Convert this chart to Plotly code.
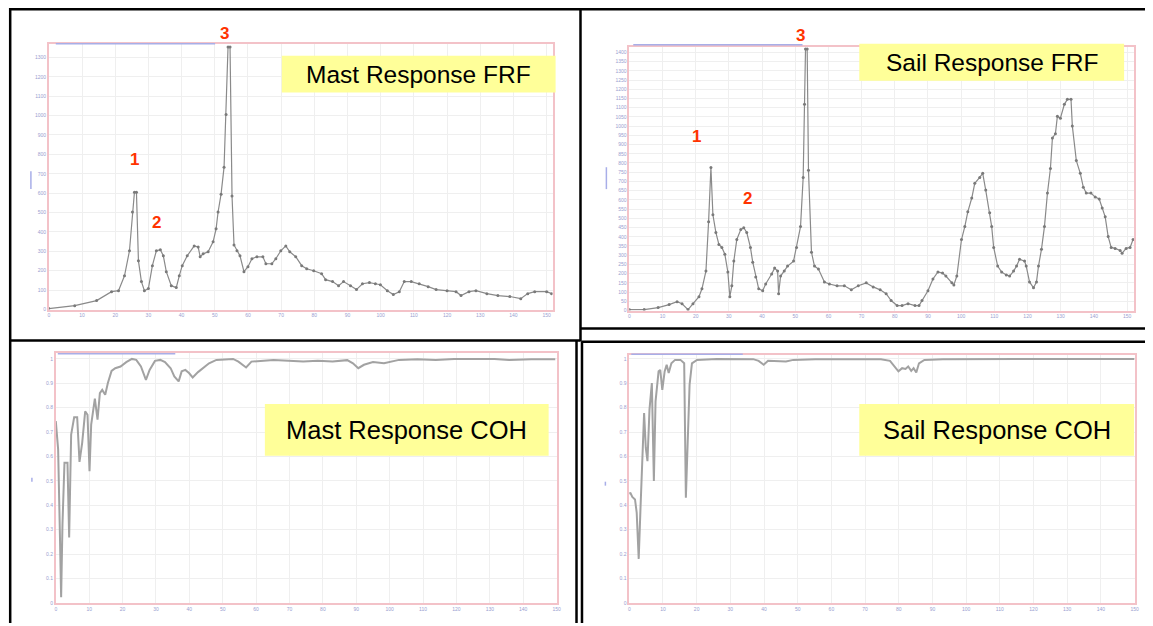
import plotly.graph_objects as go

# the page body adds an 8px margin, so the figure is drawn 8px in from the window edge
OFF = 8
W, H = 1153 - OFF, 626 - OFF

# ---------------- data (frequency in Hz, amplitude / coherence) ----------------
mast_frf_f = [0, 7.8, 14.4, 18.9, 21.0, 22.8, 24.3, 25.2, 25.8, 26.4, 27.0, 27.9, 28.8, 30.0,
              31.2, 32.4, 33.6, 34.5, 35.4, 36.9, 38.4, 39.3, 40.2, 41.7, 43.8, 45.0, 45.6,
              46.5, 48.0, 49.5, 50.4, 51.0, 51.9, 52.8, 53.4, 54.0, 54.6, 55.2, 55.8, 56.7,
              57.6, 58.8, 60.0, 61.2, 62.7, 64.5, 65.4, 67.2, 68.4, 69.9, 71.4, 72.6, 74.4,
              76.2, 77.7, 79.8, 82.2, 83.4, 85.5, 87.3, 88.8, 90.9, 92.7, 94.5, 96.6, 98.4,
              99.9, 102.0, 103.8, 105.6, 107.1, 109.2, 111.6, 114.3, 116.7, 120.0, 122.7,
              124.2, 126.6, 128.7, 132.0, 135.3, 138.9, 142.2, 144.3, 146.4, 150.0, 151.5]
mast_frf_a = [5, 20, 46, 92, 97, 174, 303, 503, 605, 605, 251, 144, 97, 108,
              226, 303, 308, 277, 195, 123, 113, 174, 226, 277, 328, 323, 272,
              287, 298, 349, 416, 503, 595, 734, 1005, 1354, 1354, 585, 333, 303,
              277, 195, 221, 262, 272, 272, 236, 236, 262, 303, 328, 298, 272,
              226, 210, 200, 185, 154, 144, 123, 144, 123, 103, 133, 139, 133,
              128, 97, 77, 92, 144, 144, 133, 118, 103, 97, 92,
              72, 92, 97, 82, 72, 67, 56, 82, 92, 92, 82]

sail_frf_f = [0, 4.5, 8.7, 12.0, 14.4, 15.9, 17.7, 19.2, 21.0, 21.9, 23.1, 23.9, 24.6, 25.2,
              26.1, 27.0, 27.9, 28.8, 29.7, 30.3, 30.9, 31.5, 32.4, 33.6, 34.5, 35.4, 36.5,
              37.2, 38.1, 39.0, 40.2, 41.1, 42.9, 43.8, 44.7, 45.0, 45.6, 46.7, 47.7, 49.5,
              50.4, 51.6, 52.4, 52.8, 53.1, 53.6, 54.0, 54.9, 55.8, 57.0, 58.8, 60.3, 62.6,
              64.8, 66.9, 69.0, 71.4, 73.5, 75.6, 77.4, 78.9, 80.7, 82.2, 84.0, 86.1, 87.3,
              88.2, 90.0, 91.5, 93.0, 94.4, 95.4, 97.2, 97.8, 98.7, 100.1, 101.1, 102.0,
              103.2, 104.1, 105.6, 106.5, 107.4, 108.6, 109.2, 109.8, 111.0, 112.2, 113.6,
              114.6, 115.8, 116.7, 117.6, 119.1, 119.6, 120.6, 121.8, 122.7, 123.3, 124.2,
              125.1, 126.0, 126.9, 127.5, 128.4, 129.0, 129.9, 131.1, 132.0, 133.1, 133.5,
              134.7, 135.9, 136.8, 137.7, 139.1, 140.4, 141.6, 142.5, 143.4, 144.3, 145.2,
              146.4, 147.9, 148.5, 149.7, 150.9, 151.8]
sail_frf_a = [5, 5, 16, 32, 48, 37, 5, 37, 75, 118, 214, 482, 776, 519,
              423, 358, 342, 305, 209, 75, 134, 268, 385, 439, 449, 423, 342,
              262, 182, 118, 107, 144, 198, 230, 214, 91, 187, 214, 241, 268,
              342, 455, 722, 1118, 1418, 1418, 760, 316, 241, 225, 155, 144, 134,
              134, 112, 134, 150, 128, 112, 91, 54, 27, 27, 37, 27, 27,
              54, 107, 171, 209, 203, 187, 150, 139, 187, 385, 455, 535,
              610, 690, 722, 744, 653, 530, 455, 342, 241, 209, 193,
              187, 214, 241, 278, 268, 241, 155, 123, 155, 241, 332,
              455, 637, 770, 936, 958, 1054, 1043, 1118, 1145, 1145, 1000,
              813, 744, 669, 637, 637, 615, 605, 556, 508, 401, 342,
              337, 326, 310, 337, 342, 385]

mast_coh_f = [0, 0.7, 1.25, 1.6, 2.0, 2.6, 3.5, 4.0, 4.6, 5.5, 6.4, 7.1, 7.9, 8.8, 9.5,
              10.1, 10.6, 11.7, 12.5, 13.2, 13.9, 14.8, 15.6, 16.7, 17.8, 19.4, 21.1, 22.8,
              24.1, 25.5, 27.0, 28.1, 29.7, 31.3, 32.7, 34.4, 35.5, 36.8, 37.7, 38.8, 39.9,
              41.0, 42.6, 44.3, 45.9, 48.1, 50.9, 53.1, 54.7, 57.0, 58.6, 60.8, 65.2, 69.7,
              74.1, 78.5, 82.9, 87.3, 89.0, 90.6, 92.3, 95.0, 98.3, 102.8, 108.3, 113.8,
              119.3, 124.8, 131.4, 135.8, 142.4, 149.6]
mast_coh_c = [0.745, 0.629, 0.268, 0.023, 0.322, 0.574, 0.574, 0.268, 0.690, 0.761, 0.761,
              0.578, 0.656, 0.785, 0.771, 0.540, 0.731, 0.837, 0.751, 0.860, 0.873, 0.853,
              0.901, 0.951, 0.962, 0.969, 0.987, 1.0, 0.996, 0.969, 0.914, 0.955, 0.992,
              0.996, 0.987, 0.962, 0.928, 0.908, 0.949, 0.955, 0.942, 0.924, 0.946, 0.965,
              0.982, 0.996, 0.999, 1.0, 0.989, 0.965, 0.989, 0.992, 0.996, 0.993, 0.989,
              0.993, 0.989, 0.995, 0.982, 0.962, 0.976, 0.987, 0.982, 0.996, 0.999, 0.996,
              1.0, 1.0, 1.0, 0.996, 0.999, 0.999]

sail_coh_f = [0, 0.3, 0.9, 1.7, 2.2, 2.8, 3.3, 3.8, 4.4, 4.9, 5.4, 6.0, 6.7, 7.3, 7.8, 8.7,
              9.2, 9.8, 10.5, 11.1, 11.7, 12.5, 13.6, 15.2, 16.3, 16.8, 17.3, 17.9, 18.6,
              20.1, 26.0, 32.5, 36.8, 38.4, 39.9, 41.2, 43.9, 46.5, 48.7, 55.2, 66.0, 74.7,
              77.4, 78.8, 79.9, 81.0, 82.0, 82.8, 83.7, 84.4, 85.2, 86.0, 87.6, 93.1, 103.9,
              114.7, 125.5, 136.3, 150.0]
sail_coh_c = [0.445, 0.452, 0.434, 0.424, 0.370, 0.180, 0.377, 0.567, 0.778, 0.636, 0.581,
              0.792, 0.901, 0.500, 0.826, 0.949, 0.955, 0.873, 0.949, 0.976, 0.942, 0.982,
              0.996, 0.996, 0.982, 0.431, 0.690, 0.894, 0.982, 0.996, 1.0, 1.0, 0.999,
              0.992, 0.976, 0.992, 0.989, 0.989, 0.996, 0.999, 0.999, 0.999, 0.992, 0.969,
              0.949, 0.962, 0.959, 0.969, 0.951, 0.962, 0.944, 0.982, 0.996, 0.999, 1.0,
              1.0, 1.0, 1.0, 1.0]

panel_titles = ["Mast Response FRF", "Sail Response FRF", "Mast Response COH", "Sail Response COH"]
peak_labels = ["1", "2", "3"]
mast_peak_f = [25.8, 32.4, 52.8]
sail_peak_f = [20.4, 35.7, 51.6]

# ---------------- layout helpers (window pixel -> paper fraction) ----------------
def px(x):
    return (x - OFF) / W

def py(y):
    return 1 - (y - OFF) / H

fig = go.Figure()

tickfont = dict(size=5, color="#9aa0d0", family="Liberation Sans")
pink = "#f3c2c8"
grid = "#efefef"

def add_axes(idx, xdom, ydom, xrng, yrng, ydt):
    sfx = "" if idx == 1 else str(idx)
    fig.layout["xaxis" + sfx] = dict(
        domain=[max(0, px(xdom[0])), min(1, px(xdom[1]))], range=xrng, dtick=10, tick0=0,
        showgrid=True, gridcolor=grid, gridwidth=1, zeroline=False,
        showline=True, linecolor=pink, linewidth=1.5, mirror=True,
        ticks="", tickfont=tickfont, anchor="y" + sfx, fixedrange=True)
    fig.layout["yaxis" + sfx] = dict(
        domain=[max(0, py(ydom[1])), min(1, py(ydom[0]))], range=yrng, dtick=ydt, tick0=0,
        showgrid=True, gridcolor=grid, gridwidth=1, zeroline=False,
        showline=True, linecolor=pink, linewidth=1.5, mirror=True,
        ticks="", tickfont=tickfont, anchor="x" + sfx, fixedrange=True)

add_axes(1, (48, 554), (44, 311), [0, 151.8], [0, 1370], 100)
add_axes(2, (631, 1138), (47, 312), [0, 152.1], [0, 1430], 50)
add_axes(3, (55, 558), (355, 605.7), [0, 150], [0, 1.023], 0.1)
add_axes(4, (631, 1138.5), (356.7, 605.7), [0, 150], [0, 1.016], 0.1)

frf_line = dict(color="#8a8a8a", width=1.2)
frf_marker = dict(color="#7a7a7a", size=3)
coh_line = dict(color="#a2a2a2", width=2)

fig.add_trace(go.Scatter(x=mast_frf_f, y=mast_frf_a, mode="lines+markers", line=frf_line,
                         marker=frf_marker, xaxis="x", yaxis="y", showlegend=False))
fig.add_trace(go.Scatter(x=sail_frf_f, y=sail_frf_a, mode="lines+markers", line=frf_line,
                         marker=frf_marker, xaxis="x2", yaxis="y2", showlegend=False))
fig.add_trace(go.Scatter(x=mast_coh_f, y=mast_coh_c, mode="lines", line=coh_line,
                         xaxis="x3", yaxis="y3", showlegend=False))
fig.add_trace(go.Scatter(x=sail_coh_f, y=sail_coh_c, mode="lines", line=coh_line,
                         xaxis="x4", yaxis="y4", showlegend=False))

shapes = []
# panel frames (outer top/left kept just inside the drawable area)
frame_lines = [
    (8, 9.2, 1153, 9.2), (9.2, 8, 9.2, 626), (582, 8, 582, 343),
    (8, 342, 582, 342), (582, 330, 1153, 330), (578, 342, 578, 626),
    (583.5, 343, 583.5, 626), (583, 343.5, 1153, 343.5),
]
for x0, y0, x1, y1 in frame_lines:
    shapes.append(dict(type="line", xref="paper", yref="paper",
                       x0=px(x0), y0=py(y0), x1=px(x1), y1=py(y1),
                       line=dict(color="black", width=2.5)))

# faint blue header stroke and axis-title marks of the original software plots
blue_marks = [
    (55, 44, 215, 44), (635, 45, 805, 45), (57, 355.5, 175, 355.5), (633, 356, 745, 356),
    (30, 172, 30, 190), (608, 168, 608, 190), (31, 480, 31, 484), (607, 484, 607, 488),
]
for x0, y0, x1, y1 in blue_marks:
    shapes.append(dict(type="line", xref="paper", yref="paper",
                       x0=px(x0), y0=py(y0), x1=px(x1), y1=py(y1),
                       line=dict(color="#a8aee8", width=1.5)))

# yellow label boxes
boxes = [(282, 56, 557, 93), (862, 44, 1128, 81), (265, 406, 550, 458), (862, 406, 1138, 458)]
for x0, y0, x1, y1 in boxes:
    shapes.append(dict(type="rect", xref="paper", yref="paper",
                       x0=px(x0), y0=py(y1), x1=px(x1), y1=py(y0),
                       fillcolor="#ffff99", line=dict(width=0), layer="above"))

annotations = []
label_sizes = [24.5, 24.5, 25.5, 25.5]
for (x0, y0, x1, y1), t, s in zip(boxes, panel_titles, label_sizes):
    annotations.append(dict(text=t, xref="paper", yref="paper",
                            x=px((x0 + x1) / 2), y=py((y0 + y1) / 2),
                            xanchor="center", yanchor="middle", showarrow=False,
                            font=dict(family="Liberation Sans, Arial", size=s, color="black")))

red = "#ff3300"
mast_label_y = [160, 224, 34]   # vertical placement of the peak numbers (window px)
sail_label_y = [137, 199, 36]
for lab, f, yy in zip(peak_labels, mast_peak_f, mast_label_y):
    annotations.append(dict(text="<b>%s</b>" % lab, x=f, y=py(yy), xref="x", yref="paper",
                            showarrow=False, xanchor="center", yanchor="middle",
                            font=dict(family="Liberation Sans, Arial", size=17, color=red)))
for lab, f, yy in zip(peak_labels, sail_peak_f, sail_label_y):
    annotations.append(dict(text="<b>%s</b>" % lab, x=f, y=py(yy), xref="x2", yref="paper",
                            showarrow=False, xanchor="center", yanchor="middle",
                            font=dict(family="Liberation Sans, Arial", size=17, color=red)))

fig.update_layout(
    width=W, height=H, margin=dict(l=0, r=0, t=0, b=0),
    paper_bgcolor="white", plot_bgcolor="white",
    shapes=shapes, annotations=annotations, showlegend=False,
)

fig.write_html("out.html", config={"displayModeBar": False})
